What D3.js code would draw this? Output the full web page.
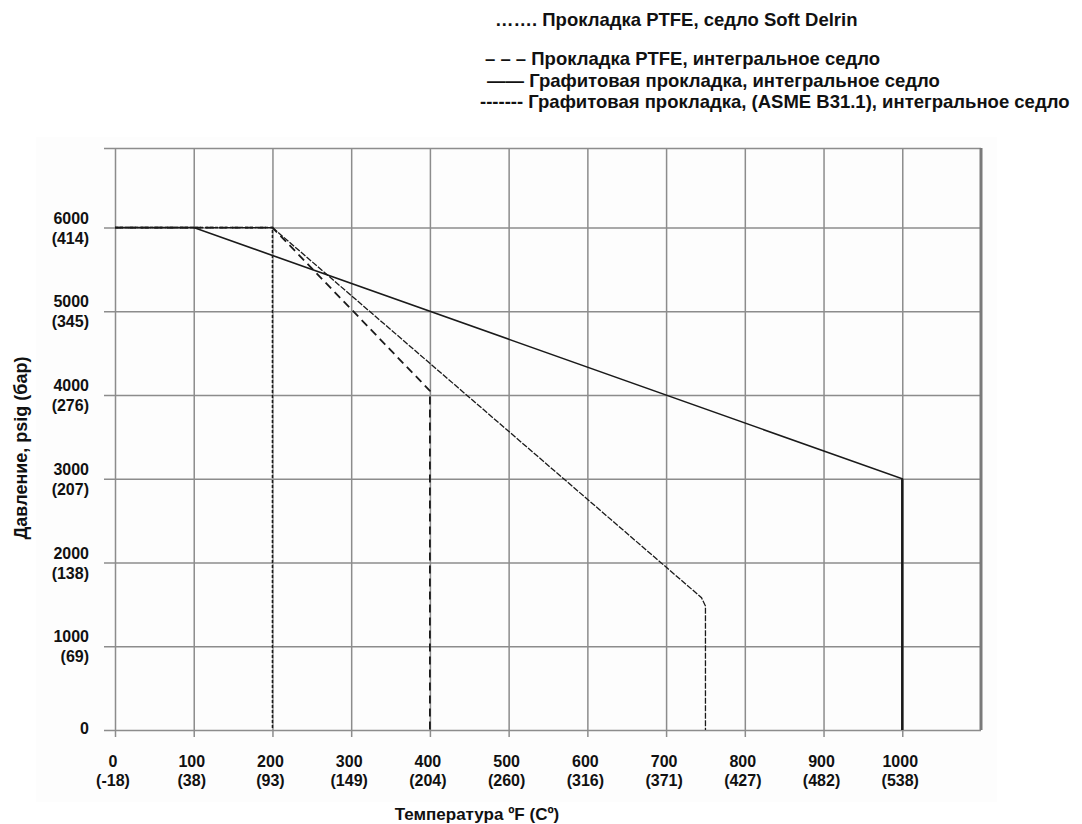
<!DOCTYPE html>
<html>
<head>
<meta charset="utf-8">
<script src="https://cdn.jsdelivr.net/npm/d3@7"></script>
<style>
  body { margin: 0; background: #fff; }
  text { font-family: "Liberation Sans", Arial, sans-serif; font-weight: bold; fill: #111; }
</style>
</head>
<body>
<div id="chart"></div>
<script>
var svgWidth = 1082;
var svgHeight = 824;

// axis ticks (temperature F / C, pressure psig / bar)
var tempF = [0, 100, 200, 300, 400, 500, 600, 700, 800, 900, 1000];
var tempC = ["(-18)", "(38)", "(93)", "(149)", "(204)", "(260)", "(316)", "(371)", "(427)", "(482)", "(538)"];
var pressPsig = [0, 1000, 2000, 3000, 4000, 5000, 6000];
var pressBar = ["", "(69)", "(138)", "(207)", "(276)", "(345)", "(414)"];

// series: [temperature F, pressure psig]
var ptfeDelrin = [[0, 6000], [200, 6000], [200, 0]];
var ptfeIntegral = [[0, 6000], [200, 6000], [400, 4050], [400, 0]];
var graphiteIntegral = [[0, 6000], [100, 6000], [1000, 3000], [1000, 0]];
var graphiteAsme = [[0, 6000], [200, 6000], [745, 1580], [750, 1480], [750, 0]];

var legendLabels = [
  "……. Прокладка PTFE, седло Soft Delrin",
  "– – – Прокладка PTFE, интегральное седло",
  "—— Графитовая прокладка, интегральное седло",
  "------- Графитовая прокладка, (ASME B31.1), интегральное седло"
];

var svg = d3.select("#chart")
  .append("svg")
  .attr("width", svgWidth)
  .attr("height", svgHeight);

// faint paper background of the scanned chart
svg.append("rect")
  .attr("x", 36).attr("y", 137)
  .attr("width", 961).attr("height", 665)
  .attr("fill", "#fdfdfd");

var xScale = d3.scaleLinear().domain([0, 1100]).range([115, 981]);
var yScale = d3.scaleLinear().domain([0, 6950]).range([730, 148]);

// grid lines + tick marks
var xAxis = d3.axisBottom(xScale)
  .tickValues(tempF)
  .tickSize(-(730 - 148) - 7)
  .tickFormat("");

var yAxis = d3.axisLeft(yScale)
  .tickValues(pressPsig.concat([6950]))
  .tickSize(-(981 - 115) - 11)
  .tickFormat("");

var gx = svg.append("g")
  .attr("transform", "translate(0," + (730 + 7) + ")")
  .call(xAxis);
var gy = svg.append("g")
  .attr("transform", "translate(" + (115 - 11) + ",0)")
  .call(yAxis);

[gx, gy].forEach(function(g) {
  g.select(".domain").remove();
  g.selectAll(".tick line")
    .attr("stroke", "#8c8c8c")
    .attr("stroke-width", 1.5);
});

// heavier right frame edge
svg.append("line")
  .attr("x1", xScale(1100)).attr("x2", xScale(1100))
  .attr("y1", yScale(6950)).attr("y2", yScale(0))
  .attr("stroke", "#7a7a7a")
  .attr("stroke-width", 3);

// x tick labels (two lines)
var xLabels = svg.append("g").selectAll("text")
  .data(tempF)
  .enter().append("text")
  .attr("text-anchor", "middle")
  .attr("font-size", 16);
xLabels.append("tspan")
  .attr("x", d => xScale(d) - 2)
  .attr("y", 767)
  .text(d => d);
xLabels.append("tspan")
  .attr("x", d => xScale(d) - 2)
  .attr("y", 786)
  .text((d, i) => tempC[i]);

// y tick labels (two lines)
var yLabels = svg.append("g").selectAll("text")
  .data(pressPsig)
  .enter().append("text")
  .attr("text-anchor", "end")
  .attr("font-size", 16);
yLabels.append("tspan")
  .attr("x", 89)
  .attr("y", d => d === 0 ? yScale(d) + 4 : yScale(d) - 4)
  .text(d => d);
yLabels.append("tspan")
  .attr("x", 89)
  .attr("y", d => yScale(d) + 16)
  .text((d, i) => pressBar[i]);

// series lines
var line = d3.line()
  .x(d => xScale(d[0]))
  .y(d => yScale(d[1]));

var seriesStyles = [
  { data: graphiteIntegral, dash: null, width: 1.6 },
  { data: graphiteAsme, dash: "6,1.5", width: 1.3 },
  { data: ptfeIntegral, dash: "8,5", width: 1.8 },
  { data: ptfeDelrin, dash: "3,2", width: 1.5 }
];

svg.append("g").selectAll("path")
  .data(seriesStyles)
  .enter().append("path")
  .attr("d", d => line(d.data))
  .attr("fill", "none")
  .attr("stroke", "#1a1a1a")
  .attr("stroke-width", d => d.width)
  .attr("stroke-dasharray", d => d.dash);

// solid vertical drop at 1000 F is drawn heavier
svg.append("line")
  .attr("x1", xScale(1000)).attr("x2", xScale(1000))
  .attr("y1", yScale(3000)).attr("y2", yScale(0))
  .attr("stroke", "#1a1a1a")
  .attr("stroke-width", 2.4);

// axis titles
svg.append("text")
  .attr("x", 477)
  .attr("y", 820)
  .attr("text-anchor", "middle")
  .attr("font-size", 17)
  .text("Температура ºF (Cº)");

svg.append("text")
  .attr("transform", "translate(27,448) rotate(-90)")
  .attr("text-anchor", "middle")
  .attr("font-size", 18)
  .text("Давление, psig (бар)");

// legend
var legendX = [495, 485, 487, 480];
var legendY = [26, 65, 87, 108];
svg.append("g").selectAll("text")
  .data(legendLabels)
  .enter().append("text")
  .attr("x", (d, i) => legendX[i])
  .attr("y", (d, i) => legendY[i])
  .attr("font-size", 18.5)
  .text(d => d);
</script>
</body>
</html>
